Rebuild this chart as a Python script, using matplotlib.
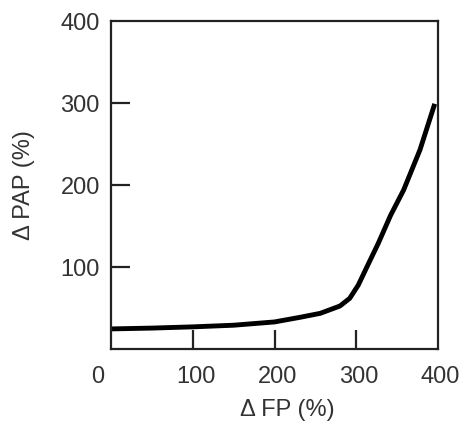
import matplotlib
matplotlib.use("Agg")
import matplotlib.pyplot as plt
import matplotlib.transforms as mtransforms

# data
fp = [0, 50, 100, 150, 200, 231, 256, 280, 292, 302.5, 313, 327, 342, 358, 378, 396]
pap = [24.5, 25.5, 27, 29, 33, 38.6, 43.5, 52.4, 61.8, 78, 100, 129, 163, 194, 243, 299]

tick_marks = [100, 200, 300]
x_edge_ticks = [0, 400]
x_edge_labels = ["0", "400"]
x_mid_labels = ["100", "200", "300"]
y_top_tick = [400]
y_top_label = ["400"]
y_mid_labels = ["100", "200", "300"]

plt.rcParams['font.family'] = ['Liberation Sans', 'DejaVu Sans']

fig = plt.figure(figsize=(4.61, 4.22), dpi=100)
ax = fig.add_axes([111/461, 1-349/422, (438-111)/461, (349-21)/422])

ax.plot(fp, pap, color='black', lw=3.5, solid_capstyle='butt', solid_joinstyle='round')

ax.set_xlim(0, 400)
ax.set_ylim(0, 400)

for s in ax.spines.values():
    s.set_linewidth(1.6)
    s.set_color('#222222')

ax.set_xticks(tick_marks, labels=x_mid_labels)
ax.set_yticks(tick_marks, labels=y_mid_labels)
ax.set_xticks(x_edge_ticks, labels=x_edge_labels, minor=True)
ax.set_yticks(y_top_tick, labels=y_top_label, minor=True)

ax.tick_params(axis='both', which='major', direction='in', length=14, width=1.6,
               color='#222222', labelsize=17, labelcolor='#333333')
ax.tick_params(axis='both', which='minor', length=0, labelsize=17, labelcolor='#333333')
ax.tick_params(axis='x', which='both', pad=12)
ax.tick_params(axis='y', which='both', pad=8)

# shift x tick labels slightly
for lab in ax.get_xticklabels():
    lab.set_transform(lab.get_transform() + mtransforms.Affine2D().translate(3, 0))
mins = ax.get_xticklabels(minor=True)
mins[0].set_transform(mins[0].get_transform() + mtransforms.Affine2D().translate(-13, 0))
mins[1].set_transform(mins[1].get_transform() + mtransforms.Affine2D().translate(2, 0))

ax.set_xlabel("Δ FP (%)", fontsize=17, color='#333333')
ax.xaxis.set_label_coords(0.54, -0.152)
ax.set_ylabel("Δ PAP (%)", fontsize=17, color='#333333')
ax.yaxis.set_label_coords(-0.232, 0.5)

fig.savefig("out.png", dpi=100)
